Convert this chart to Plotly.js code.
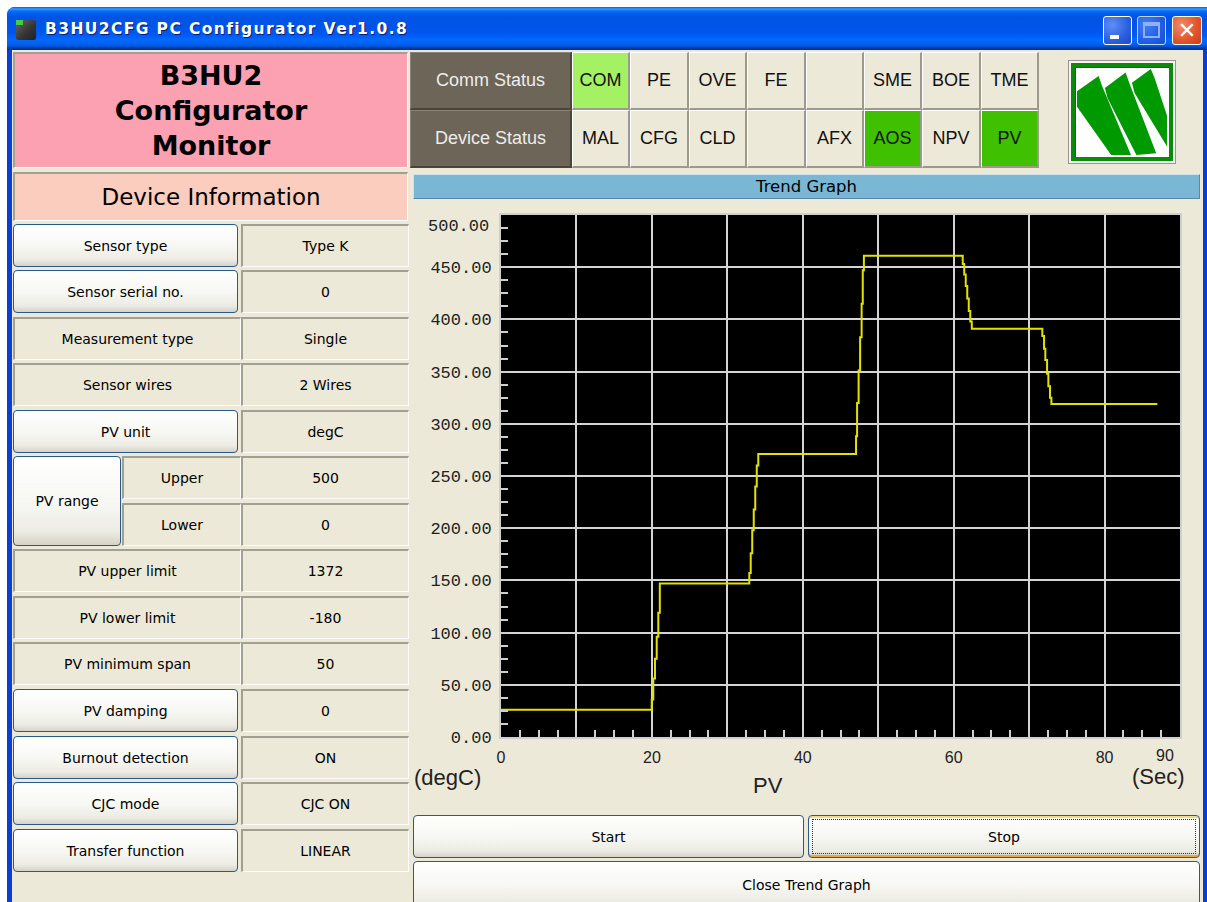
<!DOCTYPE html>
<html>
<head>
<meta charset="utf-8">
<script src="https://cdn.plot.ly/plotly-3.0.1.min.js"></script>
<style>
html,body{margin:0;padding:0;width:1207px;height:902px;overflow:hidden;background:#fff;font-family:"DejaVu Sans",sans-serif;}
.abs{position:absolute;box-sizing:border-box;}
.center{display:flex;align-items:center;justify-content:center;text-align:center;white-space:nowrap;}
#frame{left:7px;top:7px;width:1215px;height:920px;background:#0A3ED6;border-radius:8px 8px 0 0;}
#titlebar{left:7px;top:7px;width:1215px;height:43px;border-radius:8px 8px 0 0;
 background:linear-gradient(to bottom,#0058EE 0%,#3593FF 4%,#288EFF 6%,#127DFF 8%,#036FFC 10%,#0262EE 14%,#0057E5 20%,#0054E3 24%,#0055EB 56%,#005BF5 66%,#026AFE 76%,#0062EF 86%,#0052D6 92%,#0040AB 94%,#003092 100%);}
#titletext{left:45px;top:20px;color:#fff;font-weight:bold;font-size:15.5px;letter-spacing:1.4px;text-shadow:1px 1px 0 #0A1E6E;font-family:"DejaVu Sans",sans-serif;}
#content{left:12px;top:50px;width:1191px;height:870px;background:#ECE9D8;}
.btn{background:linear-gradient(#ffffff,#f6f6f2 55%,#ecebe4 85%,#d6d2c6);border:1px solid #2a5a8c;border-radius:4px;font-size:14px;color:#000;}
.cell{background:#ECE9D8;border-top:2px solid #a29f93;border-left:2px solid #a29f93;border-right:1px solid #fdfdfb;border-bottom:1px solid #fdfdfb;font-size:14px;color:#000;}
.st{background:#ECE9D8;border-top:1px solid #fff;border-left:1px solid #fff;border-right:2px solid #9d998c;border-bottom:2px solid #9d998c;font-family:"Liberation Sans",sans-serif;font-size:18px;color:#111;}
.stdark{background:#6D6557;color:#EDEDED;border-top:1px solid #8a8375;border-left:1px solid #8a8375;border-right:2px solid #4b4538;border-bottom:2px solid #4b4538;font-family:"Liberation Sans",sans-serif;font-size:18px;}
.tb{border-radius:3px;border:1px solid #fff;}
</style>
</head>
<body>
<div id="frame" class="abs"></div>
<div id="titlebar" class="abs"></div>
<div class="abs" style="left:16px;top:20px;width:20px;height:20px;background:linear-gradient(135deg,#666 0%,#333 60%,#222 100%);border-radius:2px;"></div>
<div class="abs" style="left:16px;top:20px;width:7px;height:5px;background:#4c4;"></div>
<div id="titletext" class="abs">B3HU2CFG PC Configurator Ver1.0.8</div>
<div class="abs tb" style="left:1103px;top:16px;width:29px;height:29px;background:radial-gradient(circle at 30% 30%,#5e8ef7,#2a5fe0 60%,#1d47c8);"></div>
<div class="abs" style="left:1110px;top:35px;width:9px;height:4px;background:#fff;"></div>
<div class="abs tb" style="left:1137px;top:16px;width:29px;height:29px;background:radial-gradient(circle at 30% 30%,#5e8ef7,#2a5fe0 60%,#1d47c8);opacity:0.75;"></div>
<div class="abs" style="left:1143px;top:22px;width:17px;height:16px;border:2px solid #8fb0f5;border-top-width:4px;box-sizing:border-box;"></div>
<div class="abs tb center" style="left:1172px;top:16px;width:30px;height:29px;background:radial-gradient(circle at 30% 30%,#f08a6a,#e0532a 60%,#c6401c);color:#fff;font-size:22px;font-weight:bold;">✕</div>
<div id="content" class="abs"></div>

<div id="ui"></div>
<div id="plot" class="abs" style="left:410px;top:200px;width:790px;height:605px;"></div>

<script>
// ---------- Chart data (Trend Graph: PV in degC vs time in Sec) ----------
const timeSec = [0,
  19.98, 20.19, 20.41, 20.64, 20.85, 21.05,
  32.91, 33.1, 33.3, 33.5, 33.7, 33.9, 34.1,
  47.06, 47.2, 47.4, 47.6, 47.8, 47.95, 48.1,
  61.2, 61.4, 61.6, 61.8, 62.0, 62.2, 62.4,
  71.75, 71.98, 72.15, 72.38, 72.55, 72.77, 72.95,
  87.0];
const pvValues = [26,
  36, 56, 75, 96, 119, 147,
  157, 176, 198, 218, 240, 260, 271,
  288, 320, 351, 383, 415, 447, 461,
  453, 443, 432, 420, 408, 398, 391,
  384, 372, 361, 348, 336, 325, 319,
  319];
const xTickVals = [0, 10, 20, 30, 40, 50, 60, 70, 80, 90];
const xTickText = ['0', '', '20', '', '40', '', '60', '', '80', ''];
const lastXLabel = '90';
const yTickVals = [0, 50, 100, 150, 200, 250, 300, 350, 400, 450, 500];
const yTickText = ['0.00', '50.00', '100.00', '150.00', '200.00', '250.00', '300.00', '350.00', '400.00', '450.00', ''];
const topYLabel = '500.00';

// ---------- UI text ----------
const commStatus = ['COM', 'PE', 'OVE', 'FE', '', 'SME', 'BOE', 'TME'];
const deviceStatus = ['MAL', 'CFG', 'CLD', '', 'AFX', 'AOS', 'NPV', 'PV'];
const commColors = ['#A4F264', '', '', '', '', '', '', ''];
const deviceColors = ['', '', '', '', '', '#3FC000', '', '#3FC000'];
const infoLabels = ['Sensor type', 'Sensor serial no.', 'Measurement type', 'Sensor wires', 'PV unit',
  'Upper', 'Lower', 'PV upper limit', 'PV lower limit', 'PV minimum span', 'PV damping',
  'Burnout detection', 'CJC mode', 'Transfer function'];
const infoValues = ['Type K', '0', 'Single', '2 Wires', 'degC', '500', '0', '1372', '-180', '50', '0',
  'ON', 'CJC ON', 'LINEAR'];
const infoIsButton = [true, true, false, false, true, false, false, false, false, false, true, true, true, true];

const ui = document.getElementById('ui');
function box(cls, l, t, w, h, text, style) {
  const d = document.createElement('div');
  d.className = 'abs center ' + cls;
  d.style.left = l + 'px'; d.style.top = t + 'px';
  d.style.width = w + 'px'; d.style.height = h + 'px';
  if (style) d.style.cssText += style;
  d.innerHTML = text;
  ui.appendChild(d);
  return d;
}

// header
box('', 13, 52, 395, 116, '<div style="line-height:35px">B3HU2<br>Configurator<br>Monitor</div>',
  'background:#FBA1B1;border-top:2px solid #a29f93;border-left:2px solid #a29f93;border-right:1px solid #fff;border-bottom:1px solid #fff;font-weight:bold;font-size:27px;color:#000;');
box('', 13, 172, 395, 49, 'Device Information',
  'background:#FBCDBF;border-top:2px solid #a29f93;border-left:2px solid #a29f93;border-right:1px solid #fff;border-bottom:1px solid #fff;font-size:23px;color:#000;');

// info rows
for (let i = 0; i < infoLabels.length; i++) {
  const top = Math.round(223.5 + 46.55 * i);
  const h = 43;
  if (i === 5 || i === 6) {
    box('cell', 122, top, 119, h, infoLabels[i]);
  } else {
    box(infoIsButton[i] ? 'btn' : 'cell', 13, top, infoIsButton[i] ? 225 : 228, h, infoLabels[i]);
  }
  box('cell', 241, top, 168, h, infoValues[i]);
}
box('btn', 13, Math.round(223.5 + 46.55 * 5), 108, Math.round(46.55 + 43), 'PV range');

// status grid
box('stdark', 410, 52, 162, 58, 'Comm Status');
box('stdark', 410, 110, 162, 58, 'Device Status');
for (let i = 0; i < 8; i++) {
  const l = Math.round(572 + 58.4 * i);
  const w = Math.round(572 + 58.4 * (i + 1)) - l;
  box('st', l, 52, w, 58, commStatus[i], commColors[i] ? 'background:' + commColors[i] + ';' : '');
  box('st', l, 110, w, 58, deviceStatus[i], deviceColors[i] ? 'background:' + deviceColors[i] + ';' : '');
}

// logo
box('', 1071, 63, 102, 98,
  '<svg width="90" height="86" viewBox="0 0 100 100" preserveAspectRatio="none">' +
  '<polygon points="0,26 24,8 28,20 60,100 38,100 0,44" fill="#009A00"/>' +
  '<polygon points="31,22 54,4 58,16 88,98 66,100 34,34" fill="#009A00"/>' +
  '<polygon points="61,16 82,0 86,10 100,54 100,90 64,28" fill="#009A00"/>' +
  '</svg>',
  'background:#fff;border:4px solid #0B8A0B;box-shadow:0 0 0 2px #f4f4f4,0 0 0 3px #9a978a, inset 1px 1px 0 #064;');

// trend bar
box('', 413, 174, 787, 25, 'Trend Graph',
  'background:#79B7D4;border-top:1px solid #cfe3ee;border-left:1px solid #cfe3ee;border-bottom:1px solid #5a8aa3;border-right:1px solid #5a8aa3;font-size:16.5px;color:#000;');

// buttons
box('btn', 413, 815, 391, 43, 'Start');
const stop = box('btn', 808, 815, 392, 43, 'Stop', 'box-shadow:inset 0 -2px 0 #e8a83c, inset 0 2px 0 #f7d98a;');
const focus = document.createElement('div');
focus.className = 'abs';
focus.style.cssText = 'left:3px;top:3px;right:3px;bottom:3px;border:1px dotted #333;';
stop.appendChild(focus);
box('btn', 413, 861, 787, 48, 'Close Trend Graph');

// ---------- Plotly chart ----------
const gridCol = '#d4d4d4';
const tickCol = '#cfcfcf';
const tickFontY = {family: 'Liberation Mono', size: 17, color: '#222'};
const tickFontX = {family: 'Liberation Sans', size: 16, color: '#222'};
const layout = {
  width: 790, height: 605,
  margin: {l: 91, r: 20, t: 15, b: 68, pad: 0},
  paper_bgcolor: '#ECE9D8',
  plot_bgcolor: '#000000',
  showlegend: false,
  xaxis: {
    range: [0, 90], tickmode: 'array', tickvals: xTickVals, ticktext: xTickText,
    ticks: 'inside', ticklen: 7, tickwidth: 2, tickcolor: tickCol,
    showgrid: true, gridcolor: gridCol, gridwidth: 2,
    showline: true, linecolor: tickCol, linewidth: 2, mirror: true, zeroline: false,
    tickfont: tickFontX,
    ticklabelstandoff: 5,
    minor: {tickmode: 'linear', tick0: 0, dtick: 2.5, ticks: 'inside', ticklen: 7, tickwidth: 2, tickcolor: tickCol, showgrid: false},
    fixedrange: true
  },
  yaxis: {
    range: [0, 500], tickmode: 'array', tickvals: yTickVals, ticktext: yTickText,
    ticks: 'inside', ticklen: 7, tickwidth: 2, tickcolor: tickCol,
    showgrid: true, gridcolor: gridCol, gridwidth: 2,
    showline: true, linecolor: tickCol, linewidth: 2, mirror: true, zeroline: false,
    tickfont: tickFontY,
    ticklabelstandoff: 4,
    minor: {tickmode: 'linear', tick0: 0, dtick: 12.5, ticks: 'inside', ticklen: 7, tickwidth: 2, tickcolor: tickCol, showgrid: false},
    fixedrange: true
  },
  annotations: [
    {text: topYLabel, xref: 'paper', yref: 'y', x: 0, y: 500, xanchor: 'right', yanchor: 'middle', xshift: -10, yshift: -11,
     showarrow: false, font: tickFontY},
    {text: lastXLabel, xref: 'x', yref: 'paper', x: 90, y: 0, xanchor: 'center', yanchor: 'top', xshift: -15, yshift: -8,
     showarrow: false, font: tickFontX},
    {text: '(degC)', xref: 'paper', yref: 'paper', x: 0, y: 0, xanchor: 'left', yanchor: 'middle', xshift: -89, yshift: -40,
     showarrow: false, font: {family: 'Liberation Sans', size: 22, color: '#222'}},
    {text: 'PV', xref: 'paper', yref: 'paper', x: 0, y: 0, xanchor: 'center', yanchor: 'middle', xshift: 267, yshift: -48,
     showarrow: false, font: {family: 'Liberation Sans', size: 22, color: '#222'}},
    {text: '(Sec)', xref: 'paper', yref: 'paper', x: 1, y: 0, xanchor: 'right', yanchor: 'middle', xshift: 7, yshift: -39,
     showarrow: false, font: {family: 'Liberation Sans', size: 22, color: '#222'}}
  ]
};
Plotly.newPlot('plot', [{
  x: timeSec, y: pvValues, type: 'scatter', mode: 'lines',
  line: {shape: 'hv', color: '#E2E200', width: 2}, hoverinfo: 'skip'
}], layout, {staticPlot: true, displayModeBar: false});
</script>
</body>
</html>
